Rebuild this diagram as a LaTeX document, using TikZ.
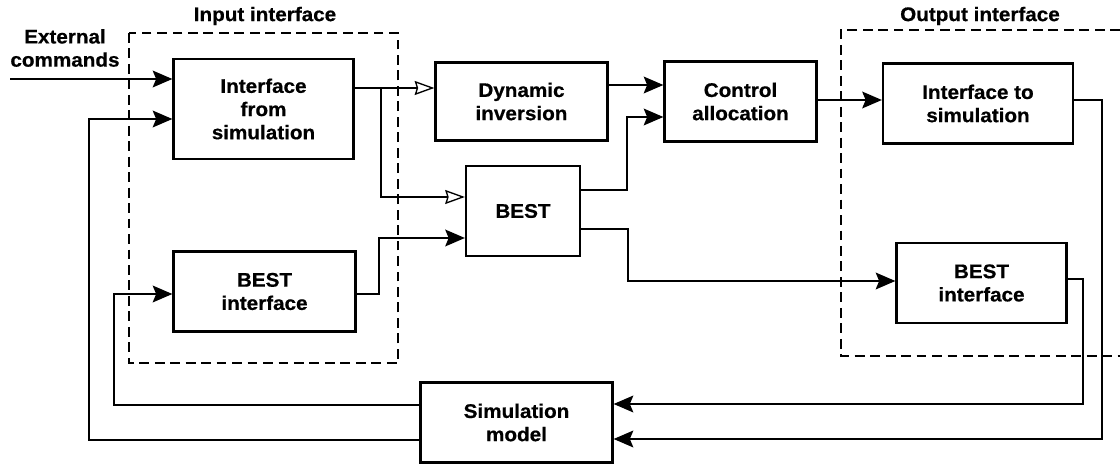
\documentclass[tikz,border=0pt]{standalone}
\usepackage{fontspec}
\setmainfont{Liberation Sans}[FakeStretch=1.05, BoldFeatures={FakeBold=0.6}]
\usetikzlibrary{arrows.meta}

\begin{document}
\begin{tikzpicture}[x=0.025cm, y=-0.025cm,
  font=\bfseries\fontsize{14}{16.5}\selectfont,
  block/.style={draw, line width=1.6pt, align=center, inner sep=0pt},
  link/.style={line width=0.95pt, -{Stealth[length=14pt,width=12pt,inset=2.5pt]}},
  hollow/.style={line width=0.95pt, -{Stealth[open,fill=white,length=14pt,width=10pt,inset=1.5pt]}},
  frame/.style={line width=1.1pt, dash pattern=on 7pt off 4pt}]
\useasboundingbox (0,0) rectangle (1120,465);

\node[block, minimum width=4.5cm, minimum height=2.5cm] (ifs) at (263.5,109) {Interface\\from\\simulation};
\node[block, minimum width=4.55cm, minimum height=2cm] (bif) at (264.5,291.5) {BEST\\interface};
\node[block, minimum width=4.3cm, minimum height=1.95cm] (dyn) at (521.5,101.5) {Dynamic\\inversion};
\node[block, minimum width=2.85cm, minimum height=2.25cm] (best) at (523,211) {BEST};
\node[block, minimum width=3.8cm, minimum height=2cm] (ctrl) at (740.5,101.5) {Control\\allocation};
\node[block, minimum width=4.75cm, minimum height=2cm] (its) at (978,103.5) {Interface to\\simulation};
\node[block, minimum width=4.25cm, minimum height=2cm] (bof) at (981.5,283) {BEST\\interface};
\node[block, minimum width=4.8cm, minimum height=2cm] (sim) at (516.5,422.5) {Simulation\\model};

\node[align=center] (ext) at (65,48) {External\\commands};
\node (inlab) at (265,16) {Input interface};
\node (outlab) at (980,16) {Output interface};

\draw[frame] (129,33) rectangle (398,363);
\draw[frame] (1120,30) -- (841,30) -- (841,356) -- (1120,356);

\coordinate (cmd) at (10,79);
\draw[link] (cmd) -- (ifs.west |- cmd);
\draw[link] (sim.west |- 0,440) -| (89,119) -- (ifs.west |- 0,119);
\draw[link] (sim.west |- 0,405) -| (114,294) -- (bif.west |- 0,294);

\draw[hollow] (ifs.east |- 0,88) -- (dyn.west |- 0,88);
\draw[hollow] (381,88) |- (best.west |- 0,197);
\draw[link] (bif.east |- 0,294) -| (379,238) -- (best.west |- 0,238);

\draw[link] (dyn.east |- 0,85) -- (ctrl.west |- 0,85);
\draw[link] (best.east |- 0,190) -| (627,117) -- (ctrl.west |- 0,117);
\draw[link] (best.east |- 0,229) -| (628,281) -- (bof.west |- 0,281);
\draw[link] (ctrl.east |- 0,100) -- (its.west |- 0,100);

\draw[link] (its.east |- 0,100) -| (1102,439) -- (sim.east |- 0,439);
\draw[link] (bof.east |- 0,279) -| (1083,404) -- (sim.east |- 0,404);
\end{tikzpicture}
\end{document}
